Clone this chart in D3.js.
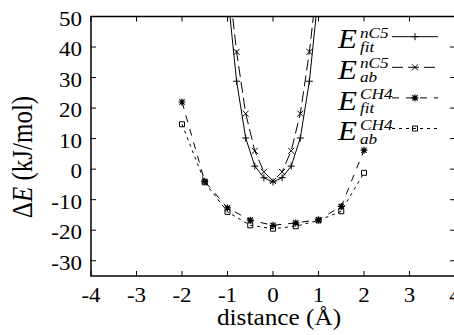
<!DOCTYPE html>
<html>
<head>
<meta charset="utf-8">
<script src="https://cdn.jsdelivr.net/npm/d3@7/dist/d3.min.js"></script>
<style>
  html, body { margin: 0; padding: 0; background: #fff; }
  svg { display: block; }
</style>
</head>
<body>
<svg id="chart" width="454" height="335"></svg>
<script>
// Interaction energy scans: n-pentane (fit / ab initio) and methane (fit / ab initio)
const nc5X      = [-1.0, -0.8, -0.6, -0.4, -0.2, 0.0, 0.2, 0.4, 0.6, 0.8, 1.0];
const nc5Fit    = [58, 28.8, 10.2, 1.0, -2.8, -4.2, -2.8, 1.0, 10.2, 28.8, 58];
const nc5Ab     = [65, 38.4, 18.2, 6.0, -0.9, -3.9, -0.9, 6.0, 18.2, 38.4, 65];
const ch4X      = [-2.0, -1.5, -1.0, -0.5, 0.0, 0.5, 1.0, 1.5, 2.0];
const ch4Fit    = [22.0, -4.0, -12.7, -16.7, -18.4, -17.6, -16.6, -12.2, 6.2];
const ch4Ab     = [14.7, -4.3, -14.0, -18.4, -19.5, -18.7, -16.8, -13.8, -1.2];
const xTicks    = [-4, -3, -2, -1, 0, 1, 2, 3, 4];
const yTicks    = [-30, -20, -10, 0, 10, 20, 30, 40, 50];

const FONT = '"Liberation Serif"';
const svg = d3.select("#chart");
const pl = 91, pr = 455, pt = 16.5, pb = 276;
const x = d3.scaleLinear().domain([-4, 4]).range([pl, pr]);
const y = d3.scaleLinear().domain([-35, 50]).range([pb, pt]);
const SX = 1.15; // horizontal stretch applied to all lettering

function label(g, px, py, str, opts = {}) {
  const t = g.append("text")
    .attr("transform", `translate(${px},${py}) scale(${opts.sx || SX},1)`)
    .style("font-family", FONT)
    .attr("font-size", opts.size || 20)
    .attr("text-anchor", opts.anchor || "start")
    .attr("fill", "#000")
    .text(str);
  if (opts.italic) t.style("font-style", "italic");
  return t;
}

svg.append("defs").append("clipPath").attr("id", "plot")
  .append("rect").attr("x", pl).attr("y", pt)
  .attr("width", pr - pl).attr("height", pb - pt);

// Ticks on all four sides, pointing inward
const tl = 5;
const tg = svg.append("g").attr("stroke", "#000").attr("stroke-width", 1);
xTicks.forEach(v => {
  tg.append("line").attr("x1", x(v)).attr("x2", x(v)).attr("y1", pb).attr("y2", pb - tl);
  tg.append("line").attr("x1", x(v)).attr("x2", x(v)).attr("y1", pt).attr("y2", pt + tl);
});
yTicks.forEach(v => {
  tg.append("line").attr("x1", pl).attr("x2", pl + tl).attr("y1", y(v)).attr("y2", y(v));
  tg.append("line").attr("x1", pr).attr("x2", pr - tl).attr("y1", y(v)).attr("y2", y(v));
});

// Tick labels
const lab = svg.append("g");
xTicks.forEach(v => label(lab, x(v), 301.5, String(v), { anchor: "middle", size: 20 }));
yTicks.forEach(v => label(lab, 82, y(v) + 9, String(v), { anchor: "end", size: 20 }));

// Axis titles
label(svg, 279, 325, "distance (Å)", { anchor: "middle", size: 23, sx: 1.1 });
const yt = svg.append("text")
  .attr("transform", `translate(32,157) rotate(-90) scale(1,${SX})`)
  .style("font-family", FONT)
  .attr("font-size", 25).attr("text-anchor", "middle").attr("fill", "#000");
yt.append("tspan").text("Δ");
yt.append("tspan").style("font-style", "italic").text("E");
yt.append("tspan").text(" (kJ/mol)");

// Marker shapes
const mark = {
  plus: (s) => `M${-s},0H${s}M0,${-s}V${s}`,
  cross: (s) => `M${-s},${-s}L${s},${s}M${-s},${s}L${s},${-s}`,
  star: (s) => `M${-s},0H${s}M0,${-s}V${s}M${-s*0.75},${-s*0.75}L${s*0.75},${s*0.75}M${-s*0.75},${s*0.75}L${s*0.75},${-s*0.75}`,
  box: (s) => `M${-s},${-s}H${s}V${s}H${-s}Z`
};

const series = [
  { xs: nc5X, ys: nc5Fit, dash: null, m: "plus", ms: 3.5, sw: 1, name: ["nC5", "fit"] },
  { xs: nc5X, ys: nc5Ab, dash: "11,5", m: "cross", ms: 3, sw: 1, name: ["nC5", "ab"] },
  { xs: ch4X, ys: ch4Fit, dash: "7,7", m: "star", ms: 3.5, sw: 1.2, name: ["CH4", "fit"] },
  { xs: ch4X, ys: ch4Ab, dash: "3,4", m: "box", ms: 2.5, sw: 1, name: ["CH4", "ab"] }
];

const line = d3.line().x(d => x(d[0])).y(d => y(d[1]));
const plot = svg.append("g").attr("clip-path", "url(#plot)");

series.forEach(s => {
  const pts = s.xs.map((v, i) => [v, s.ys[i]]);
  plot.append("path").datum(pts).attr("d", line)
    .attr("fill", "none").attr("stroke", "#000").attr("stroke-width", 1)
    .attr("stroke-dasharray", s.dash);
  plot.selectAll(null).data(pts.filter(p => p[1] <= 50)).enter().append("path")
    .attr("transform", p => `translate(${x(p[0])},${y(p[1])})`)
    .attr("d", mark[s.m](s.ms))
    .attr("fill", "none").attr("stroke", "#000").attr("stroke-width", s.sw);
});

// Legend
const lg = svg.append("g");
series.forEach((s, i) => {
  const ly = 36.7 + 30.6 * i;
  label(lg, 338, ly + 11.6, "E", { italic: true, size: 27 });
  label(lg, 360, ly + 1, s.name[0], { italic: true, size: 15 });
  label(lg, 360, ly + 15, s.name[1], { italic: true, size: 15 });
  lg.append("line").attr("x1", 392).attr("x2", 438).attr("y1", ly).attr("y2", ly)
    .attr("stroke", "#000").attr("stroke-width", 1).attr("stroke-dasharray", s.dash);
  lg.append("path").attr("transform", `translate(415,${ly})`).attr("d", mark[s.m](s.ms))
    .attr("fill", "none").attr("stroke", "#000").attr("stroke-width", s.sw);
});

// Frame
svg.append("rect").attr("x", pl).attr("y", pt)
  .attr("width", pr - pl).attr("height", pb - pt)
  .attr("fill", "none").attr("stroke", "#000").attr("stroke-width", 1.5);
</script>
</body>
</html>
